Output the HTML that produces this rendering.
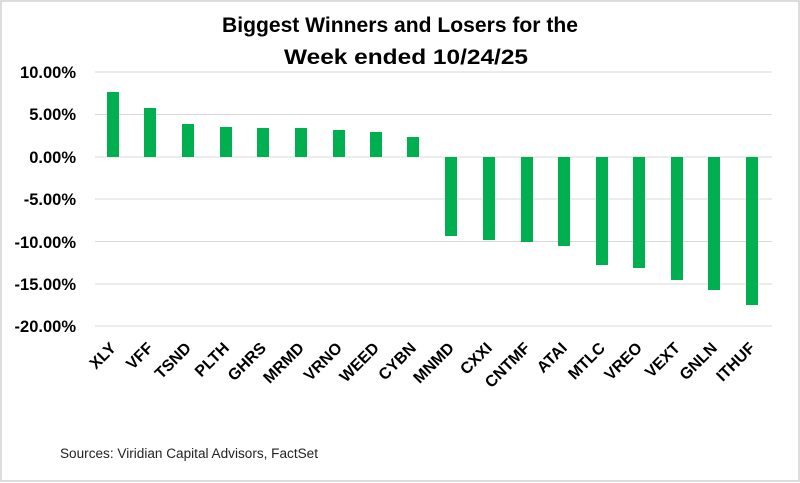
<!DOCTYPE html>
<html><head><style>body{margin:0;background:#fff}svg{display:block}</style></head><body>
<svg width="800" height="483" xmlns="http://www.w3.org/2000/svg" font-family="Liberation Sans, sans-serif">
<rect x="1" y="1" width="798" height="480" fill="#fff" stroke="#d0d0d0" stroke-width="1.5"/>
<text x="400" y="32" text-anchor="middle" font-size="21" font-weight="bold" fill="#000" textLength="356" lengthAdjust="spacingAndGlyphs">Biggest Winners and Losers for the</text>
<text x="406" y="64" text-anchor="middle" font-size="21" font-weight="bold" fill="#000" textLength="244" lengthAdjust="spacingAndGlyphs">Week ended 10/24/25</text>
<g stroke="#d9d9d9" stroke-width="1">
<line x1="95" x2="772" y1="72" y2="72"/><line x1="95" x2="772" y1="114.5" y2="114.5"/><line x1="95" x2="772" y1="157" y2="157"/><line x1="95" x2="772" y1="199" y2="199"/><line x1="95" x2="772" y1="241.5" y2="241.5"/><line x1="95" x2="772" y1="284" y2="284"/><line x1="95" x2="772" y1="326" y2="326"/>
</g>
<g font-size="16.5" font-weight="bold" text-anchor="end" fill="#000">
<text x="76" y="78">10.00%</text><text x="76" y="120">5.00%</text><text x="76" y="163">0.00%</text><text x="76" y="205">-5.00%</text><text x="76" y="248">-10.00%</text><text x="76" y="290">-15.00%</text><text x="76" y="332">-20.00%</text>
</g>
<g fill="#00b050">
<rect x="107" y="92" width="12" height="65"/>
<rect x="144" y="108" width="12" height="49"/>
<rect x="182" y="124" width="12" height="33"/>
<rect x="220" y="127" width="12" height="30"/>
<rect x="257" y="128" width="12" height="29"/>
<rect x="295" y="128" width="12" height="29"/>
<rect x="333" y="130" width="12" height="27"/>
<rect x="370" y="132" width="12" height="25"/>
<rect x="407" y="137" width="12" height="20"/>
<rect x="445" y="157" width="12" height="79"/>
<rect x="483" y="157" width="12" height="83"/>
<rect x="521" y="157" width="12" height="85"/>
<rect x="558" y="157" width="12" height="89"/>
<rect x="596" y="157" width="12" height="108"/>
<rect x="633" y="157" width="12" height="111"/>
<rect x="671" y="157" width="12" height="123"/>
<rect x="708" y="157" width="12" height="133"/>
<rect x="746" y="157" width="12" height="148"/>
</g>
<g font-size="16" font-weight="bold" text-anchor="end" fill="#000">
<text transform="translate(117,349) rotate(-45)">XLY</text>
<text transform="translate(154,349) rotate(-45)">VFF</text>
<text transform="translate(192,349) rotate(-45)">TSND</text>
<text transform="translate(230,349) rotate(-45)">PLTH</text>
<text transform="translate(267,349) rotate(-45)">GHRS</text>
<text transform="translate(305,349) rotate(-45)">MRMD</text>
<text transform="translate(343,349) rotate(-45)">VRNO</text>
<text transform="translate(380,349) rotate(-45)">WEED</text>
<text transform="translate(417,349) rotate(-45)">CYBN</text>
<text transform="translate(455,349) rotate(-45)">MNMD</text>
<text transform="translate(493,349) rotate(-45)">CXXI</text>
<text transform="translate(531,349) rotate(-45)">CNTMF</text>
<text transform="translate(568,349) rotate(-45)">ATAI</text>
<text transform="translate(606,349) rotate(-45)">MTLC</text>
<text transform="translate(643,349) rotate(-45)">VREO</text>
<text transform="translate(681,349) rotate(-45)">VEXT</text>
<text transform="translate(718,349) rotate(-45)">GNLN</text>
<text transform="translate(756,349) rotate(-45)">ITHUF</text>
</g>
<text x="60" y="458" font-size="13.5" fill="#222" textLength="258" lengthAdjust="spacingAndGlyphs">Sources: Viridian Capital Advisors, FactSet</text>
</svg>
</body></html>
